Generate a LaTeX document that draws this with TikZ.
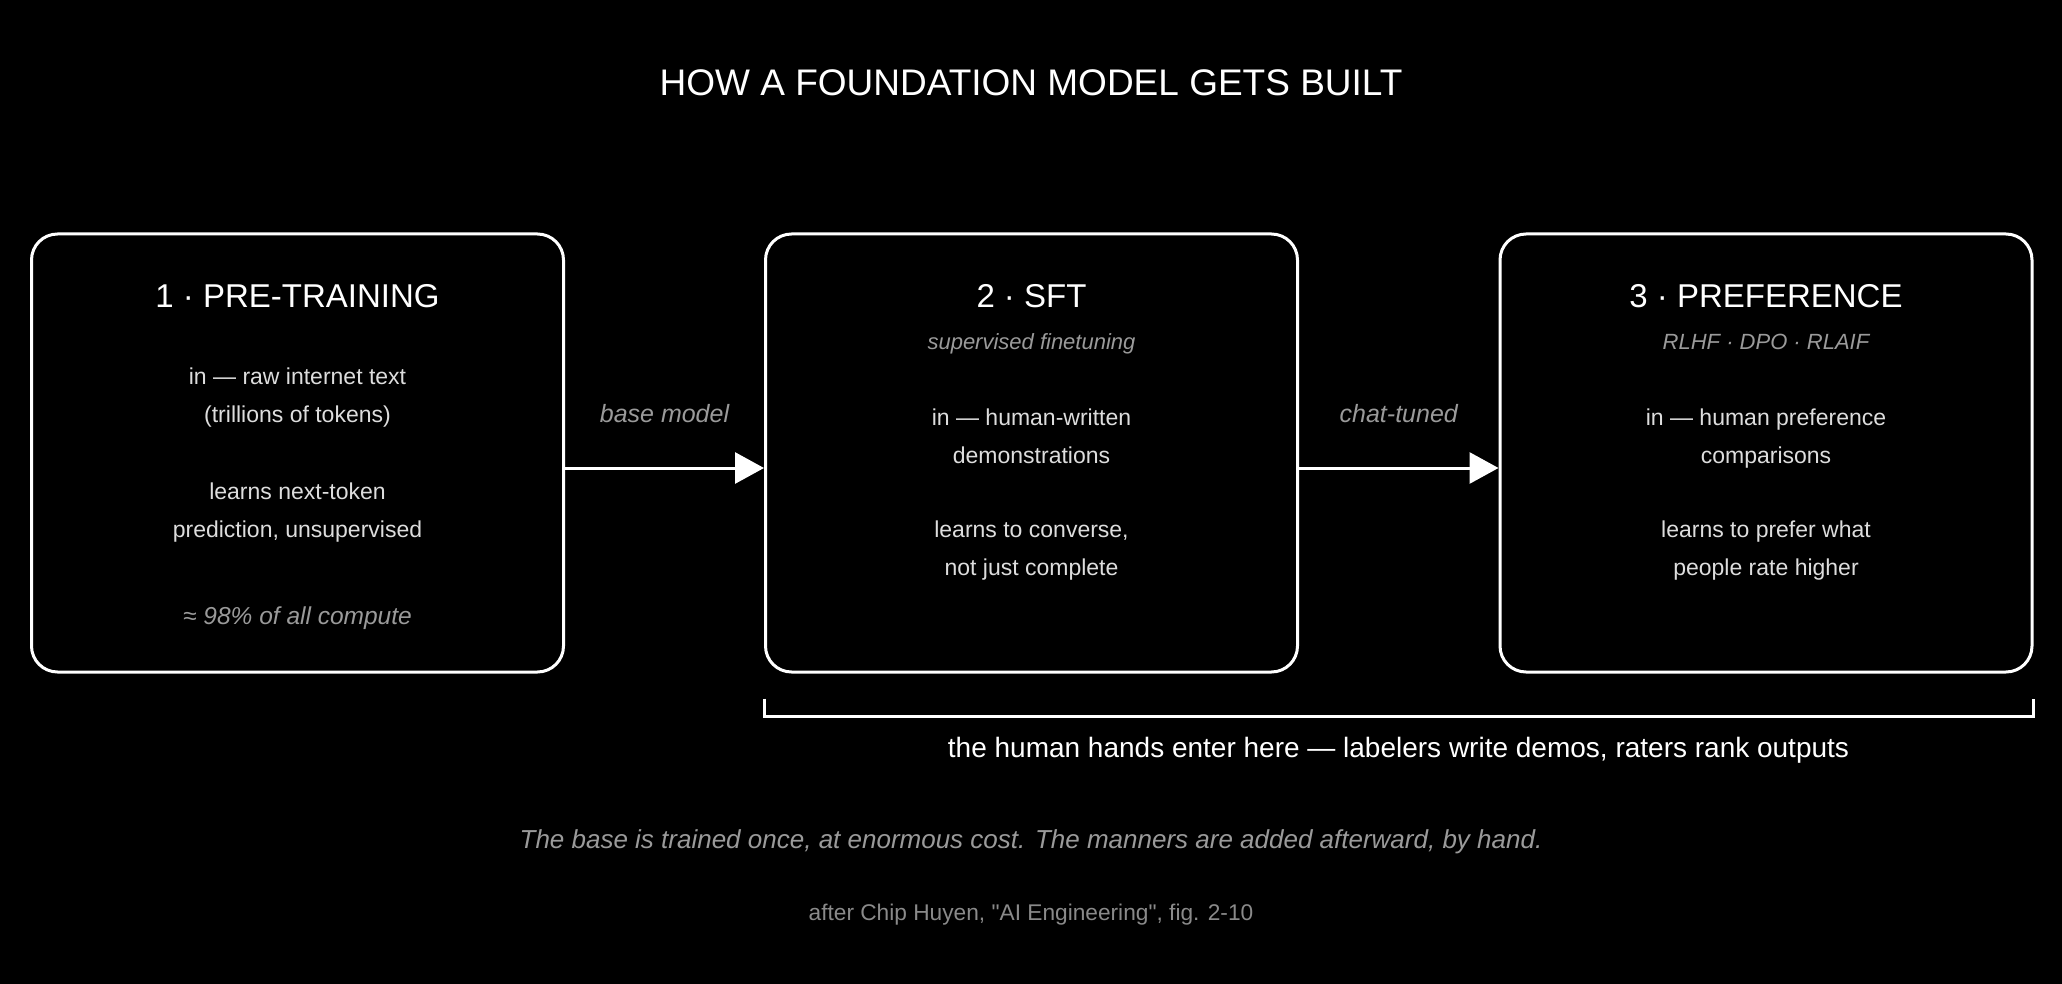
\documentclass[tikz,border=0pt]{standalone}
\usepackage{fontspec}
\setmainfont{Liberation Sans}
\newfontfamily\srcfont{Liberation Sans}
\usepackage{xcolor}
\usetikzlibrary{arrows.meta,positioning}
\definecolor{bodytxt}{HTML}{DDDDDD}
\definecolor{dimtxt}{HTML}{9A9A9A}
\definecolor{credtxt}{HTML}{8A8A8A}
\tikzset{
  stage/.style   = { draw=white, line width=3pt, rounded corners=26pt,
                     minimum width=532pt, minimum height=438pt, inner sep=0pt },
  ttl/.style     = { white, font=\fontsize{37}{44}\selectfont, anchor=base },
  head/.style    = { white, font=\fontsize{33}{40}\selectfont, anchor=base },
  sub/.style     = { dimtxt, font=\fontsize{22}{38}\selectfont\itshape, anchor=base },
  body/.style    = { bodytxt, font=\fontsize{23}{38}\selectfont, align=center, anchor=base },
  flow/.style    = { white, line width=3pt, -{Triangle[length=29pt,width=31pt]} },
  flowlbl/.style = { dimtxt, font=\fontsize{25}{30}\selectfont\itshape },
  brace/.style   = { white, line width=3pt },
  hands/.style   = { white, font=\fontsize{28}{34}\selectfont, anchor=base },
  moral/.style   = { dimtxt, font=\fontsize{26}{32}\selectfont\itshape, anchor=base },
  credit/.style  = { credtxt, font=\srcfont\fontsize{22.7}{28}\selectfont, anchor=base }
}
\begin{document}
\begin{tikzpicture}[x=1pt, y=-1pt]
  \fill[black] (0,0) rectangle (2062,984);
  \useasboundingbox (0,0) rectangle (2062,984);

  % Draw title
  \node[ttl] (title) at (1031,96) {HOW A FOUNDATION MODEL GETS BUILT};

  % Draw all stages
  \node[stage] (pre)  at (297.5,453) {};
  \node[stage] (sft)  at (1031.5,453) {};
  \node[stage] (pref) at (1766,453) {};

  \node[head] (prehead) at (297.5,308) {1 · PRE-TRAINING};
  \node[body] (prein)   at (297.5,422) {in — raw internet text\\(trillions of tokens)};
  \node[body] (prelrn)  at (297.5,537) {learns next-token\\prediction, unsupervised};
  \node[sub, font=\fontsize{24.5}{30}\selectfont\itshape] (precost) at (297.5,624) {≈ 98\% of all compute};

  \node[head] (sfthead) at (1031.5,308) {2 · SFT};
  \node[sub]  (sftsub)  at (1031.5,350) {supervised finetuning};
  \node[body] (sftin)   at (1031.5,463) {in — human-written\\demonstrations};
  \node[body] (sftlrn)  at (1031.5,575) {learns to converse,\\not just complete};

  \node[head] (prefhead) at (1766,308) {3 · PREFERENCE};
  \node[sub]  (prefsub)  at (1766,350) {RLHF · DPO · RLAIF};
  \node[body] (prefin)   at (1766,463) {in — human preference\\comparisons};
  \node[body] (preflrn)  at (1766,575) {learns to prefer what\\people rate higher};

  % Draw connections
  \draw[flow] ([yshift=-15pt]pre.east) -- node[above=40pt, flowlbl] {base model} ([yshift=-15pt]sft.west);
  \draw[flow] ([yshift=-15pt]sft.east) -- node[above=40pt, flowlbl] {chat-tuned} ([yshift=-15pt]pref.west);

  % Draw bracket and notes
  \draw[brace] ([yshift=-25pt]sft.south west) -- ([yshift=-43pt]sft.south west)
     -- ([yshift=-43pt]pref.south east) -- ([yshift=-25pt]pref.south east);
  \node[hands]  (human) at (1398.5,757) {the human hands enter here — labelers write demos, raters rank outputs};
  \node[moral]  (moral) at (1031,848) {The base is trained once, at enormous cost. The manners are added afterward, by hand.};
  \node[credit] (src)   at (1031,920) {after Chip Huyen, "AI Engineering", fig. 2-10};
\end{tikzpicture}
\end{document}
